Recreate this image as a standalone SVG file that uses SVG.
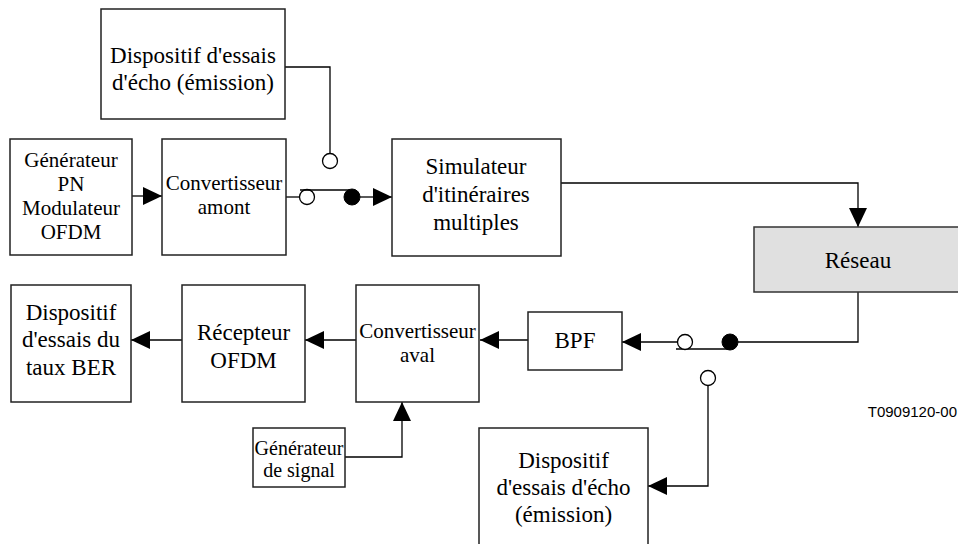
<svg xmlns="http://www.w3.org/2000/svg" width="958" height="544" viewBox="0 0 958 544">
<defs>
<marker id="ah" markerUnits="userSpaceOnUse" markerWidth="20" markerHeight="20" refX="19" refY="9" orient="auto">
<path d="M0,0 L19,9 L0,18 Z" fill="#000"/>
</marker>
<style>
.box{fill:#fff;stroke:#222;stroke-width:1.5}
.grey{fill:#e0e0e0;stroke:#333;stroke-width:1.5}
text.t{font-family:'Liberation Serif','Times New Roman',Times,serif;font-size:23px;fill:#000;text-anchor:middle}
text.s{font-size:21px}
text.xs{font-size:20px}
.ln{fill:none;stroke:#000;stroke-width:1.3}
.arr{fill:none;stroke:#000;stroke-width:1.3;marker-end:url(#ah)}
.oc{fill:#fff;stroke:#000;stroke-width:1.3}
.fc{fill:#000;stroke:#000}
text.lbl{font-family:'Liberation Sans',Arial,sans-serif;font-size:15px;fill:#000;text-anchor:end}
</style>
</defs>
<rect width="958" height="544" fill="#fff"/>

<g id="connectors">
<line class="arr" x1="132" y1="196" x2="162" y2="196"/>
<polyline class="ln" points="285,67 330,67 330,153.5"/>
<circle class="oc" cx="330" cy="161" r="7.5"/>
<line class="ln" x1="286" y1="197" x2="299" y2="197"/>
<circle class="oc" cx="307" cy="197" r="7.5"/>
<line class="ln" x1="300" y1="190" x2="350" y2="190"/>
<circle class="fc" cx="352" cy="197" r="8"/>
<line class="arr" x1="360" y1="197" x2="392" y2="197"/>
<polyline class="arr" points="561,183 858,183 858,227"/>
<polyline class="ln" points="858,292 858,342 738,342"/>
<circle class="fc" cx="730" cy="342" r="8"/>
<line class="ln" x1="676" y1="349" x2="730" y2="349"/>
<circle class="oc" cx="685" cy="342" r="7.5"/>
<line class="arr" x1="677.5" y1="342" x2="622" y2="342"/>
<circle class="oc" cx="708" cy="378" r="7.5"/>
<polyline class="arr" points="708,385.5 708,486 648,486"/>
<line class="arr" x1="528" y1="340" x2="480" y2="340"/>
<line class="arr" x1="356" y1="340" x2="305" y2="340"/>
<line class="arr" x1="182" y1="340" x2="131" y2="340"/>
<polyline class="arr" points="345,457 402,457 402,402"/>
</g>

<g id="echo-tx-top">
<rect class="box" x="101" y="9" width="184" height="110"/>
<text class="t" x="193" y="63">Dispositif d'essais</text>
<text class="t" x="193" y="90">d'écho (émission)</text>
</g>

<g id="gen-pn">
<rect class="box" x="10" y="139" width="122" height="116"/>
<text class="t s" x="71" y="167">Générateur</text>
<text class="t s" x="71" y="191">PN</text>
<text class="t s" x="71" y="215">Modulateur</text>
<text class="t s" x="71" y="239">OFDM</text>
</g>

<g id="conv-amont">
<rect class="box" x="162" y="139" width="124" height="116"/>
<text class="t s" x="224" y="190">Convertisseur</text>
<text class="t s" x="224" y="214">amont</text>
</g>

<g id="simulateur">
<rect class="box" x="392" y="139" width="169" height="117"/>
<text class="t" x="476" y="174">Simulateur</text>
<text class="t" x="476" y="202">d'itinéraires</text>
<text class="t" x="476" y="230">multiples</text>
</g>

<g id="reseau">
<rect class="grey" x="754" y="227" width="210" height="65"/>
<text class="t" x="858" y="268">Réseau</text>
</g>

<g id="bpf">
<rect class="box" x="528" y="312" width="94" height="58"/>
<text class="t" x="575" y="348">BPF</text>
</g>

<g id="conv-aval">
<rect class="box" x="356" y="285" width="123" height="117"/>
<text class="t s" x="417.5" y="338">Convertisseur</text>
<text class="t s" x="417.5" y="362">aval</text>
</g>

<g id="recepteur">
<rect class="box" x="182" y="285" width="123" height="117"/>
<text class="t" x="243.5" y="340">Récepteur</text>
<text class="t" x="243.5" y="368">OFDM</text>
</g>

<g id="ber">
<rect class="box" x="11" y="285" width="120" height="117"/>
<text class="t" x="71" y="320">Dispositif</text>
<text class="t" x="71" y="347">d'essais du</text>
<text class="t" x="71" y="375">taux BER</text>
</g>

<g id="gen-signal">
<rect class="box" x="253" y="428" width="92" height="59"/>
<text class="t xs" x="299" y="455">Générateur</text>
<text class="t xs" x="299" y="477">de signal</text>
</g>

<g id="echo-tx-bottom">
<rect class="box" x="479" y="428" width="169" height="125"/>
<text class="t" x="563.5" y="468">Dispositif</text>
<text class="t" x="563.5" y="495">d'essais d'écho</text>
<text class="t" x="563.5" y="522">(émission)</text>
</g>

<text class="lbl" x="957" y="417">T0909120-00</text>
</svg>
